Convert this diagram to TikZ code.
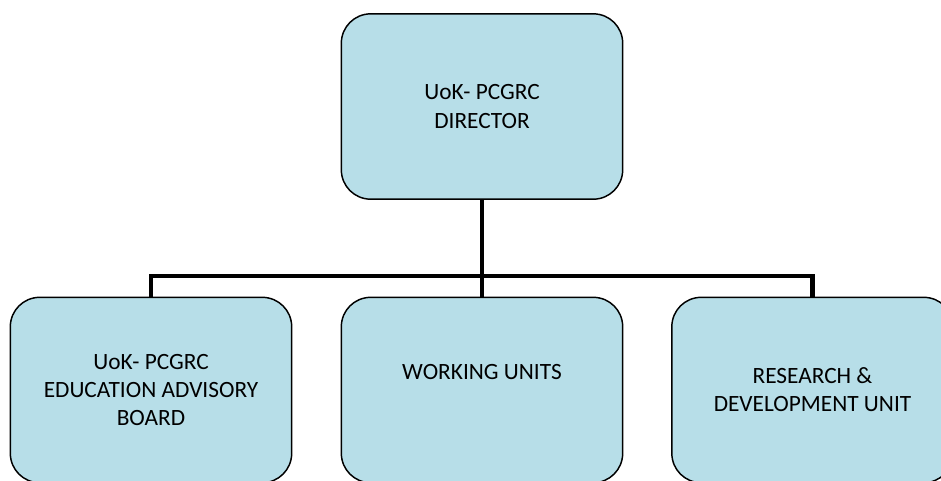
\documentclass[tikz,border=0pt]{standalone}
\usepackage{fontspec}
\setmainfont{Carlito}
\usepackage{xcolor}
\definecolor{boxfill}{HTML}{B7DEE8}

\begin{document}
\begin{tikzpicture}[x=0.75pt, y=-0.75pt,
    unitbox/.style={draw=black, line width=1.1pt, fill=boxfill, rounded corners=22pt,
        minimum width=211pt, minimum height=139pt, inner sep=0pt, align=center,
        text=black, font=\fontsize{17.5}{21}\selectfont},
    link/.style={line width=3.4pt}]
    \useasboundingbox (0, 0) rectangle (941, 480);

    % Director
    \node [unitbox] (director) at (482, 106.5) {UoK- PCGRC\\DIRECTOR};

    % Units below
    \begin{scope}[every node/.append style={minimum height=142pt}]
        \node [unitbox] (board) at (151, 390) {UoK- PCGRC\\EDUCATION ADVISORY\\BOARD};
        \node [unitbox] (units) at (482, 390) {WORKING UNITS\\[6pt]};
        \node [unitbox] (research) at (812.5, 390) {RESEARCH \&\\DEVELOPMENT UNIT};
    \end{scope}

    % Connectors
    \coordinate (bar) at (482, 276);
    \draw [link] (director.south) -- (units.north);
    \draw [link] (board.north) |- (bar) -| (research.north);
\end{tikzpicture}
\end{document}
